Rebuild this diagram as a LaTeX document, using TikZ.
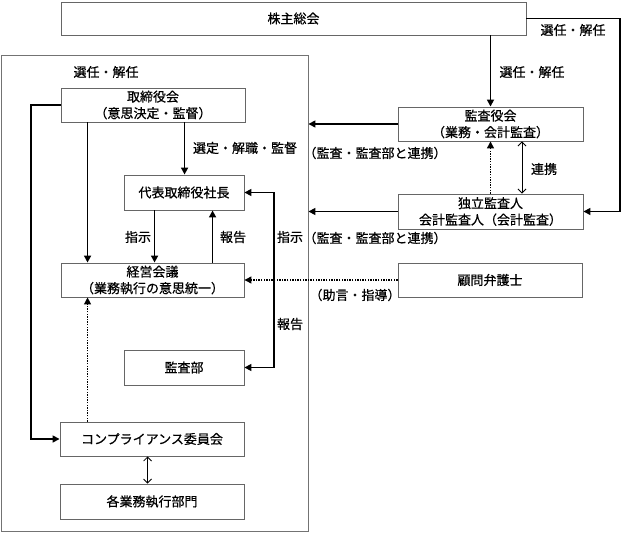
\documentclass[tikz,border=0pt]{standalone}
\usepackage{fontspec}
\setmainfont{Noto Sans CJK JP}[FakeBold=0.6]
\usetikzlibrary{arrows.meta,calc}
\begin{document}
\begin{tikzpicture}[x=1pt,y=-1pt,
  box/.style={draw=black!60,line width=0.9pt,fill=white,inner sep=0pt,align=center,
    font=\fontsize{13}{16.5}\selectfont},
  frm/.style={draw=black!55,line width=0.9pt,inner sep=0pt},
  lbl/.style={inner sep=0pt,font=\fontsize{13}{15}\selectfont},
  thk/.style={line width=1.6pt,-{Triangle[length=7pt,width=7pt]}},
  thkboth/.style={line width=1.6pt,{Triangle[length=7pt,width=7pt]}-{Triangle[length=7pt,width=7pt]}},
  dot/.style={line width=1.3pt,dash pattern=on 1.3pt off 1.3pt,-{Triangle[length=7pt,width=7pt]}},
  thin/.style={line width=0.8pt,{Straight Barb[length=4pt,width=8pt]}-{Straight Barb[length=4pt,width=8pt]}}
]
\useasboundingbox (0,0) rectangle (623,534);
\fill[white] (0,0) rectangle (623,534);

% frame
\node[frm,minimum width=307pt,minimum height=476pt] (frame) at (154.5,293) {};

% boxes
\node[box,minimum width=465pt,minimum height=33pt] (kabu) at (293.5,18.5) {株主総会};
\node[box,minimum width=184pt,minimum height=34pt] (tori) at (153,105) {取締役会\\（意思決定・監督）};
\node[box,minimum width=120pt,minimum height=35pt] (daihyo) at (184,192.5) {代表取締役社長};
\node[box,minimum width=183pt,minimum height=34pt] (keiei) at (152.5,280) {経営会議\\（業務執行の意思統一）};
\node[box,minimum width=120pt,minimum height=35pt] (kansabu) at (184,367.5) {監査部};
\node[box,minimum width=184pt,minimum height=34pt] (comp) at (152,439) {コンプライアンス委員会};
\node[box,minimum width=184pt,minimum height=35pt] (kaku) at (152,501.5) {各業務執行部門};
\node[box,minimum width=185pt,minimum height=34pt] (kansayaku) at (490.5,124) {監査役会\\（業務・会計監査）};
\node[box,minimum width=185pt,minimum height=35pt] (dokuritsu) at (490.5,211.5) {独立監査人\\会計監査人（会計監査）};
\node[box,minimum width=184pt,minimum height=34pt] (komon) at (490,280) {顧問弁護士};

% coordinates
\coordinate (rtop) at (620,0);
\coordinate (lft) at (31,0);
\coordinate (brk) at (274,0);

% connectors
\draw[thk] (kabu.south -| kansayaku.north) -- (kansayaku.north);
\draw[thk] (kabu.east) -- (kabu.east -| rtop) -- (dokuritsu.east -| rtop) -- (dokuritsu.east);
\draw[thk] (kansayaku.west) -- (kansayaku.west -| frame.east);
\draw[thk] (dokuritsu.west) -- (dokuritsu.west -| frame.east);
\draw[dot] (dokuritsu.north) -- (kansayaku.south);
\draw[thin] ($(kansayaku.south)+(31.5,0)$) -- ($(dokuritsu.north)+(31.5,0)$);
\draw[dot] (komon.west) -- (keiei.east);

\draw[thk] (tori.west) -- (tori.west -| lft) -- (comp.west -| lft) -- (comp.west);
\draw[thk] ($(tori.south west)+(27,0)$) -- ($(keiei.north west)+(27,0)$);
\draw[thk] ($(tori.south west)+(124,0)$) -- ($(daihyo.north west)+(61,0)$);
\draw[thk] ($(daihyo.south west)+(31,0)$) -- ($(keiei.north west)+(94,0)$);
\draw[thk] ($(keiei.north west)+(152,0)$) -- ($(daihyo.south west)+(89,0)$);
\draw[thkboth] (daihyo.east) -- (daihyo.east -| brk) -- (kansabu.east -| brk) -- (kansabu.east);
\draw[dot] ($(comp.north west)+(28,0)$) -- ($(keiei.south west)+(27,0)$);
\draw[thin] ($(comp.south west)+(88,0)$) -- ($(kaku.north west)+(88,0)$);

% labels
\node[lbl] (l1) at (106,72) {選任・解任};
\node[lbl] (l2) at (532,72) {選任・解任};
\node[lbl] (l3) at (573,30) {選任・解任};
\node[lbl] (l4) at (245,148) {選定・解職・監督};
\node[lbl] (l5) at (375,153) {（監査・監査部と連携）};
\node[lbl] (l6) at (375,238) {（監査・監査部と連携）};
\node[lbl] (l7) at (544,169) {連携};
\node[lbl] (l8) at (138,237) {指示};
\node[lbl] (l9) at (233,237) {報告};
\node[lbl] (l10) at (290,237) {指示};
\node[lbl] (l11) at (290,324) {報告};
\node[lbl] (l12) at (355,295) {（助言・指導）};
\end{tikzpicture}
\end{document}
